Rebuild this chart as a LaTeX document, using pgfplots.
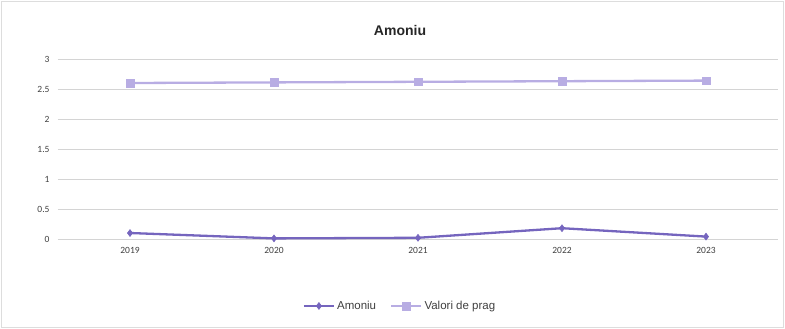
\documentclass[border=0pt]{standalone}
\usepackage{pgfplots}
\pgfplotsset{compat=1.18}
\usepackage{fontspec}
\setmainfont{Carlito}
\newfontfamily\titlefont{Liberation Sans}
\definecolor{amon}{HTML}{7565BE}
\definecolor{prag}{HTML}{B8ADE3}
\definecolor{gridc}{HTML}{D4D4D4}
\begin{document}
\begin{tikzpicture}
\path[use as bounding box] (-58bp,-90bp) rectangle (727bp,239bp);
\draw[gridc!80!white, line width=1bp] (-56bp,-88bp) rectangle (725bp,237bp);
\begin{axis}[
  at={(0,0)}, anchor=south west,
  scale only axis, width=720bp, height=180bp,
  xmin=-0.5, xmax=4.5, ymin=0, ymax=3,
  xtick={0,1,2,3,4}, xticklabels={2019,2020,2021,2022,2023},
  ytick={0,0.5,1,1.5,2,2.5,3},
  yticklabels={0,0.5,1,1.5,2,2.5,3},
  axis line style={draw=none},
  major tick length=0,
  ymajorgrids, grid style={gridc, line width=0.9bp},
  tick label style={font=\fontsize{9.5bp}{11bp}\selectfont, text=black!75},
  xticklabel style={yshift=-5bp},
  yticklabel style={xshift=-5bp},
  legend style={at={(0.475,-0.372)}, anchor=center, draw=none, legend columns=2,
    font=\titlefont\fontsize{11.5bp}{13bp}\selectfont, text=black!75,
    /tikz/every even column/.append style={column sep=12bp}},
  legend image code/.code={
    \draw[#1, line width=2.4bp] (0bp,0bp) -- (30bp,0bp);
    \draw[#1, line width=2.4bp] plot coordinates {(15bp,0bp)};},
]
\addplot[amon, line width=2.3bp, mark=diamond*, mark size=3.5bp, mark options={fill=amon, line width=0.5bp}] coordinates {
 (0,0.10) (1,0.01) (2,0.02) (3,0.18) (4,0.04)};
\addlegendentry{Amoniu}
\addplot[prag, line width=2.3bp, mark=square*, mark size=3.8bp, mark options={fill=prag, line width=0.5bp}] coordinates {
 (0,2.60) (1,2.61) (2,2.62) (3,2.63) (4,2.64)};
\addlegendentry{Valori de prag}
\end{axis}
\node[font=\titlefont\bfseries\fontsize{14bp}{16bp}\selectfont, text=black!85] at (342bp,209bp) {Amoniu};
\end{tikzpicture}
\end{document}
